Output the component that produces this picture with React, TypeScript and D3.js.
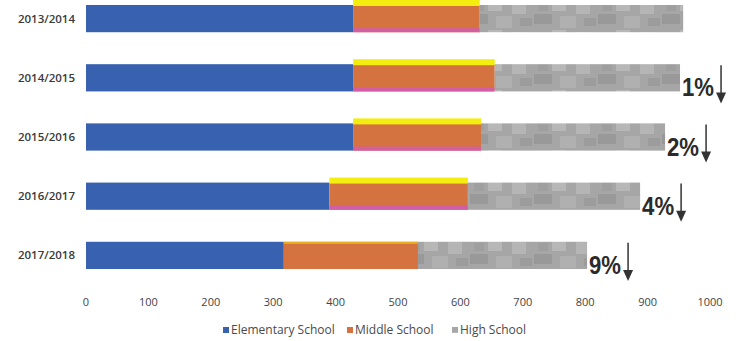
import React from "react";
import * as d3 from "d3";

const categories = ["2013/2014", "2014/2015", "2015/2016", "2016/2017", "2017/2018"];
const elementary = [428, 428, 428, 390, 317];
const middle = [203, 227, 205, 222, 215];
const high = [326, 297, 295, 276, 271];
const changeLabels = ["", "1%", "2%", "4%", "9%"];
const xTicks = [0, 100, 200, 300, 400, 500, 600, 700, 800, 900, 1000];
const seriesNames = ["Elementary School", "Middle School", "High School"];

const W = 736;
const H = 341;

export default function App() {
  const x = d3.scaleLinear().domain([0, 1000]).range([86, 710]);
  const y = d3
    .scaleBand<string>()
    .domain(categories)
    .range([-11, 285])
    .paddingInner(0.54)
    .paddingOuter(0.27);
  const bh = y.bandwidth();

  const blue = "#3862b0";
  const orange = "#d4733f";
  const yellow = "#f4ee10";
  const pink = "#d35ea3";

  const legendItems = [
    { name: seriesNames[0], color: blue, x: 223 },
    { name: seriesNames[1], color: orange, x: 347 },
    { name: seriesNames[2], color: "url(#grayPat)", x: 452 },
  ];

  return (
    <svg
      width={W}
      height={H}
      style={{ position: "absolute", left: 0, top: 0, background: "#fff" }}
    >
      <defs>
        <pattern id="grayPat" patternUnits="userSpaceOnUse" width="64" height="30">
          <rect width="64" height="30" fill="#a6a6a6" />
          <rect x="0" y="2" width="14" height="12" fill="#b5b5b5" />
          <rect x="22" y="14" width="18" height="10" fill="#999999" />
          <rect x="40" y="0" width="14" height="11" fill="#b7b7b7" />
          <rect x="48" y="16" width="16" height="12" fill="#b0b0b0" />
          <rect x="8" y="18" width="12" height="8" fill="#9c9c9c" />
          <rect x="26" y="3" width="10" height="8" fill="#9f9f9f" />
        </pattern>
      </defs>

      {categories.map((c, i) => {
        const y0 = y(c)!;
        const e0 = x(0);
        const e1 = x(elementary[i]);
        const m1 = x(elementary[i] + middle[i]);
        const h1 = x(elementary[i] + middle[i] + high[i]);
        const last = i === categories.length - 1;
        const label = changeLabels[i];
        const tx = h1 + 2;
        const textW = 32;
        const ax = tx + textW + 7;
        const baseY = y0 + bh + 5;
        return (
          <g key={c}>
            <text
              x={75}
              y={y0 + bh / 2}
              dy="0.35em"
              textAnchor="end"
              fontFamily="'Open Sans', sans-serif"
              fontSize={11.5}
              fontWeight={600}
              fill="#3a3a3a"
            >
              {c}
            </text>
            <rect x={e0} y={y0} width={e1 - e0} height={bh} fill={blue} />
            <rect x={e1} y={y0} width={m1 - e1} height={bh} fill={orange} />
            {!last && (
              <>
                <rect x={e1} y={y0 - 5} width={m1 - e1} height={6} fill={yellow} />
                <rect x={e1} y={y0 + bh - 4} width={m1 - e1} height={4} fill={pink} />
              </>
            )}
            {last && <rect x={e1} y={y0} width={m1 - e1} height={2} fill="#e8b020" />}
            <rect x={m1} y={y0} width={h1 - m1} height={bh} fill="url(#grayPat)" />
            {label && (
              <g>
                <text
                  x={tx}
                  y={baseY}
                  fontFamily="'Liberation Sans Narrow', 'Liberation Sans', Arial, sans-serif"
                  fontSize={25}
                  fontWeight={700}
                  fill="#2b2b2b"
                  textLength={textW}
                  lengthAdjust="spacingAndGlyphs"
                >
                  {label}
                </text>
                <line
                  x1={ax}
                  x2={ax}
                  y1={y0 + 1}
                  y2={y0 + bh + 2}
                  stroke="#333"
                  strokeWidth={1.5}
                />
                <path
                  d={`M${ax - 5},${y0 + bh + 1} L${ax + 5},${y0 + bh + 1} L${ax},${y0 + bh + 12} Z`}
                  fill="#333"
                />
              </g>
            )}
          </g>
        );
      })}

      {xTicks.map((t) => (
        <text
          key={t}
          x={x(t)}
          y={302}
          dy="0.35em"
          textAnchor="middle"
          fontFamily="'Open Sans', sans-serif"
          fontSize={11}
          fill="#444"
        >
          {t}
        </text>
      ))}

      {legendItems.map((l) => (
        <g key={l.name}>
          <rect x={l.x} y={327} width={6} height={6} fill={l.color} />
          <text
            x={l.x + 8}
            y={330}
            dy="0.35em"
            fontFamily="'Open Sans', sans-serif"
            fontSize={12}
            fill="#4a4a4a"
          >
            {l.name}
          </text>
        </g>
      ))}
    </svg>
  );
}
